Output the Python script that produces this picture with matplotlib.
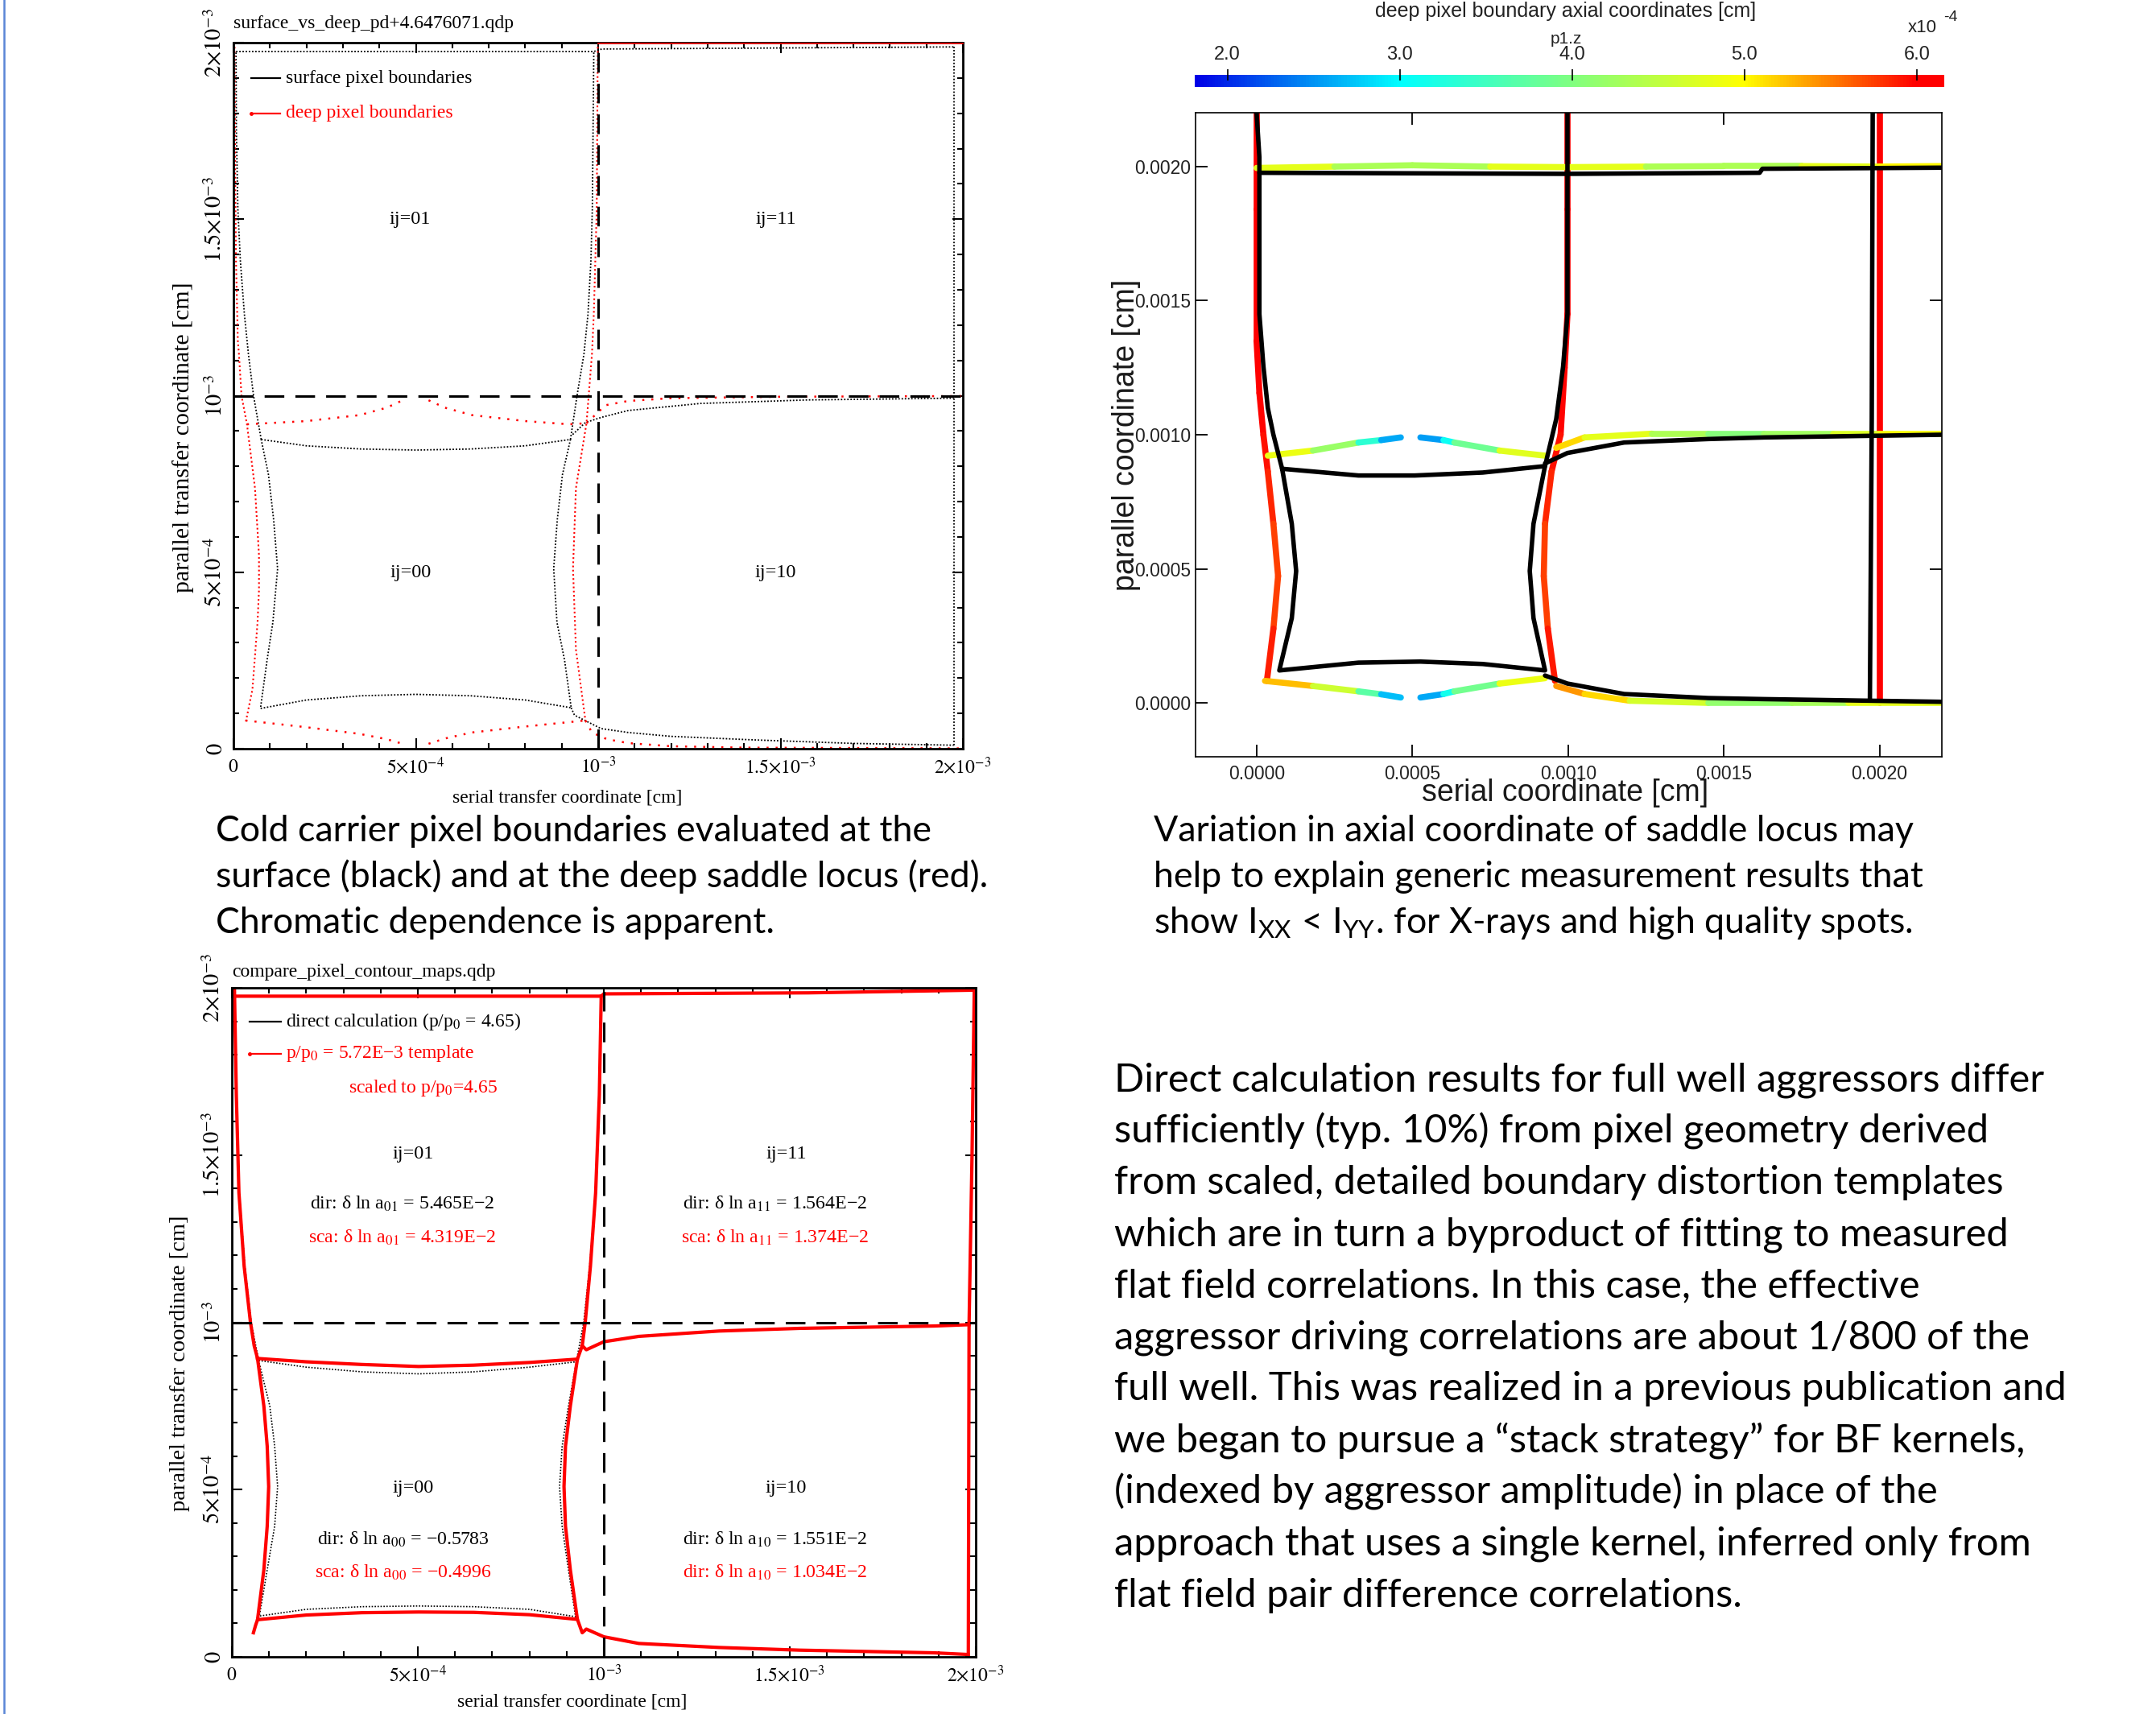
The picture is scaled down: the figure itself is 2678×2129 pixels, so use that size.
import matplotlib
matplotlib.use("Agg")
import matplotlib.pyplot as plt
import numpy as np
from matplotlib.collections import LineCollection
from matplotlib.colors import Normalize, LinearSegmentedColormap
from matplotlib.lines import Line2D
import matplotlib.cm as cm

plt.rcParams['mathtext.fontset'] = 'stix'

# ================= DATA (lengths in units of 1e-4 cm) =================
# ---- Panel 1: surface (black) vs deep (red) pixel boundaries ----
p1_surf_box_x = [0.76, 2.0, 3.5, 5.0, 6.5, 8.0, 9.24, 9.02, 8.88, 8.78, 8.87, 9.08, 9.26,
                 8.0, 6.5, 5.0, 3.5, 2.0, 0.74, 0.92, 1.08, 1.21, 1.1, 0.96, 0.76]
p1_surf_box_y = [8.76, 8.58, 8.49, 8.46, 8.49, 8.58, 8.76, 7.76, 6.5, 5.1, 3.58, 2.5, 1.16,
                 1.38, 1.5, 1.54, 1.5, 1.38, 1.14, 2.5, 3.58, 5.1, 6.5, 7.76, 8.76]
p1_surf_upl_x = [0.76, 0.55, 0.41, 0.3, 0.19, 0.12, 0.08, 0.07]
p1_surf_upl_y = [8.76, 10.0, 11.18, 12.3, 13.8, 15.3, 17.5, 19.75]
p1_surf_upr_x = [9.24, 9.42, 9.61, 9.72, 9.8, 9.84, 9.86, 9.88]
p1_surf_upr_y = [8.76, 10.0, 11.18, 12.3, 13.8, 15.3, 17.5, 19.75]
p1_surf_top_x = [0.07, 9.88, 10.1, 15.0, 19.75]
p1_surf_top_y = [19.75, 19.75, 19.82, 19.85, 19.88]
p1_surf_edge_x = [19.75, 19.75]
p1_surf_edge_y = [19.88, 0.1]
p1_surf_mid_x = [9.3, 9.65, 10.1, 10.82, 12.8, 15.75, 19.75]
p1_surf_mid_y = [8.9, 9.24, 9.39, 9.58, 9.78, 9.88, 9.93]
p1_surf_bot_x = [9.26, 9.35, 10.08, 10.82, 12.0, 14.28, 17.0, 19.75]
p1_surf_bot_y = [1.16, 0.95, 0.57, 0.46, 0.35, 0.25, 0.15, 0.1]

p1_deep_left_x = [0.03, 0.05, 0.07, 0.12, 0.15, 0.22, 0.37, 0.59, 0.70, 0.70, 0.66, 0.52, 0.33]
p1_deep_left_y = [20.0, 16.0, 13.8, 11.55, 11.18, 10.0, 9.19, 7.38, 5.48, 4.5, 3.58, 1.68, 0.72]
p1_deep_right_x = [9.99, 9.96, 9.88, 9.83, 9.74, 9.68, 9.39, 9.31, 9.39, 9.65]
p1_deep_right_y = [20.0, 15.26, 12.3, 11.18, 10.0, 9.22, 7.38, 5.1, 2.81, 0.8]
p1_deep_topl_x = [0.37, 1.99, 3.46, 4.2, 4.64]
p1_deep_topl_y = [9.19, 9.28, 9.45, 9.66, 9.87]
p1_deep_topr_x = [5.35, 5.8, 6.54, 8.01, 9.2, 9.68]
p1_deep_topr_y = [9.87, 9.66, 9.45, 9.28, 9.19, 9.22]
p1_deep_botl_x = [0.33, 1.99, 3.46, 4.2, 4.64]
p1_deep_botl_y = [0.8, 0.61, 0.42, 0.27, 0.14]
p1_deep_botr_x = [5.35, 5.8, 6.54, 8.01, 9.65]
p1_deep_botr_y = [0.14, 0.29, 0.46, 0.63, 0.8]
p1_deep_mid_x = [9.68, 10.2, 10.82, 12.0, 15.0, 20.0]
p1_deep_mid_y = [9.22, 9.73, 9.85, 9.93, 9.97, 9.99]
p1_deep_bot10_x = [9.65, 9.83, 10.24, 10.82, 12.0, 14.0, 20.0]
p1_deep_bot10_y = [0.8, 0.46, 0.27, 0.16, 0.07, 0.03, 0.01]
p1_deep_top11_x = [10.0, 20.0]
p1_deep_top11_y = [19.97, 19.97]

# ---- Panel 3: direct (black dotted) vs scaled template (red) ----
p3_sca_box_x = [0.69, 2.0, 3.5, 5.02, 6.5, 8.0, 9.29, 9.1, 8.97, 8.93, 8.97, 9.1, 9.29,
                8.0, 6.5, 5.02, 3.5, 2.0, 0.69, 0.86, 0.95, 0.99, 0.95, 0.86, 0.69]
p3_sca_box_y = [8.92, 8.82, 8.74, 8.68, 8.72, 8.8, 8.9, 7.5, 6.3, 5.09, 3.9, 2.6, 1.12,
                1.26, 1.33, 1.34, 1.32, 1.25, 1.11, 2.6, 3.9, 5.09, 6.3, 7.5, 8.92]
p3_sca_upl_x = [0.07, 0.12, 0.19, 0.33, 0.5, 0.6, 0.69]
p3_sca_upl_y = [19.93, 16.8, 13.87, 11.68, 10.0, 9.3, 8.92]
p3_sca_upr_x = [9.93, 9.88, 9.78, 9.64, 9.5, 9.42, 9.29]
p3_sca_upr_y = [19.75, 16.8, 13.87, 11.68, 10.0, 9.3, 8.9]
p3_sca_top_x = [0.07, 9.93, 10.0, 15.5, 19.96]
p3_sca_top_y = [19.75, 19.75, 19.82, 19.85, 19.93]
p3_sca_edge_x = [19.96, 19.9, 19.82, 19.8]
p3_sca_edge_y = [19.93, 15.0, 9.93, 0.07]
p3_sca_mid_x = [9.42, 9.53, 10.0, 10.94, 13.1, 15.27, 18.88, 19.82]
p3_sca_mid_y = [9.3, 9.18, 9.42, 9.58, 9.74, 9.82, 9.89, 9.93]
p3_sca_bot_x = [9.29, 9.42, 9.53, 10.0, 10.94, 13.1, 15.27, 18.88, 19.8]
p3_sca_bot_y = [1.12, 0.72, 0.83, 0.6, 0.4, 0.28, 0.2, 0.12, 0.07]
p3_sca_hook_x = [0.69, 0.64, 0.58]
p3_sca_hook_y = [1.11, 0.95, 0.72]

p3_dir_box_x = [0.72, 2.0, 3.5, 5.02, 6.5, 8.0, 9.26, 9.05, 8.88, 8.81, 8.88, 9.05, 9.24,
                8.0, 6.5, 5.02, 3.5, 2.0, 0.74, 0.95, 1.15, 1.23, 1.15, 1.02, 0.72]
p3_dir_box_y = [8.86, 8.66, 8.52, 8.46, 8.52, 8.66, 8.82, 7.5, 6.3, 5.09, 3.9, 2.6, 1.2,
                1.42, 1.5, 1.52, 1.5, 1.42, 1.22, 2.6, 3.9, 5.09, 6.3, 7.5, 8.86]
p3_dir_upl_x = [0.07, 0.12, 0.2, 0.35, 0.52, 0.72]
p3_dir_upl_y = [19.9, 16.8, 13.87, 11.68, 10.0, 8.86]
p3_dir_upr_x = [9.93, 9.88, 9.78, 9.62, 9.46, 9.26]
p3_dir_upr_y = [19.8, 16.8, 13.87, 11.68, 10.0, 8.82]

# ---- Panel 2: deep boundary coloured by axial coordinate (z in 1e-4 cm) ----
p2_c_left_x = [0.0, 0.0, 0.0, 0.09, 0.22, 0.36, 0.54, 0.69, 0.54, 0.33]
p2_c_left_y = [22.0, 18.4, 13.5, 11.56, 9.99, 8.63, 6.68, 4.73, 2.77, 0.82]
p2_c_left_z = [6.1, 6.1, 6.05, 6.0, 5.95, 5.9, 5.8, 5.7, 5.8, 5.95]
p2_c_mid_x = [9.98, 9.98, 9.98, 9.89, 9.76, 9.47, 9.26, 9.22, 9.35, 9.58]
p2_c_mid_y = [22.0, 18.4, 14.5, 12.5, 10.0, 8.63, 6.68, 4.73, 2.77, 0.82]
p2_c_mid_z = [6.1, 6.1, 6.05, 6.0, 5.95, 5.9, 5.8, 5.7, 5.8, 6.0]
p2_c_right_x = [20.0, 20.0]
p2_c_right_y = [22.0, 0.0]
p2_c_right_z = [6.1, 6.1]
p2_c_top_x = [0.0, 2.5, 5.0, 7.5, 10.0, 12.5, 15.0, 17.5, 20.0, 22.0]
p2_c_top_y = [19.95, 20.0, 20.05, 20.0, 19.98, 20.0, 20.02, 20.02, 20.0, 20.02]
p2_c_top_z = [5.0, 4.6, 4.05, 4.6, 5.0, 4.6, 4.1, 4.6, 5.0, 5.05]
p2_c_sul_x = [0.36, 1.81, 3.27, 4.0, 4.63]
p2_c_sul_y = [9.22, 9.41, 9.71, 9.8, 9.9]
p2_c_sul_z = [5.0, 4.7, 3.7, 3.0, 2.2]
p2_c_sur_x = [5.26, 6.0, 6.35, 7.8, 9.26]
p2_c_sur_y = [9.9, 9.8, 9.71, 9.41, 9.22]
p2_c_sur_z = [2.2, 2.9, 3.3, 4.4, 5.1]
p2_c_sll_x = [0.27, 1.81, 3.27, 4.0, 4.63]
p2_c_sll_y = [0.82, 0.63, 0.43, 0.32, 0.2]
p2_c_sll_z = [5.5, 5.0, 4.2, 3.2, 2.2]
p2_c_slr_x = [5.26, 6.0, 6.35, 7.8, 9.26]
p2_c_slr_y = [0.2, 0.33, 0.43, 0.72, 0.92]
p2_c_slr_z = [2.2, 3.0, 3.3, 4.5, 5.2]
p2_c_m10_x = [9.62, 10.53, 12.7, 14.5, 16.3, 18.5, 20.0, 22.0]
p2_c_m10_y = [9.51, 9.9, 10.04, 10.04, 10.04, 10.04, 10.04, 10.04]
p2_c_m10_z = [5.3, 5.0, 4.6, 4.1, 4.0, 4.5, 4.9, 5.0]
p2_c_b10_x = [9.62, 10.53, 11.98, 14.5, 17.2, 19.0, 22.0]
p2_c_b10_y = [0.63, 0.33, 0.08, 0.0, 0.0, 0.0, 0.0]
p2_c_b10_z = [5.5, 5.3, 5.0, 4.3, 4.0, 4.6, 5.0]

p2_k_upl_x = [0.0, 0.09, 0.09, 0.22, 0.36, 0.54, 0.82]
p2_k_upl_y = [22.0, 20.35, 14.5, 12.54, 11.0, 10.0, 8.73]
p2_k_top_x = [0.09, 9.98, 16.15, 16.24, 22.0]
p2_k_top_y = [19.77, 19.73, 19.77, 19.92, 19.96]
p2_k_upr_x = [9.98, 9.98, 9.84, 9.62, 9.26]
p2_k_upr_y = [22.0, 14.5, 12.54, 10.59, 8.83]
p2_k_box_x = [0.82, 3.27, 5.08, 7.26, 9.26, 8.89, 8.77, 8.89, 9.26, 7.26, 5.26, 3.27, 0.73,
              1.13, 1.27, 1.13, 0.82]
p2_k_box_y = [8.73, 8.48, 8.48, 8.59, 8.83, 6.68, 4.92, 3.16, 1.21, 1.45, 1.54, 1.5, 1.21,
              3.16, 4.92, 6.68, 8.73]
p2_k_m10_x = [9.26, 9.98, 11.8, 14.5, 16.3, 22.0]
p2_k_m10_y = [8.93, 9.32, 9.71, 9.84, 9.9, 10.0]
p2_k_b10_x = [9.26, 9.98, 11.8, 14.5, 16.3, 22.0]
p2_k_b10_y = [1.02, 0.72, 0.33, 0.18, 0.14, 0.04]
p2_k_edge_x = [19.78, 19.75, 19.69]
p2_k_edge_y = [22.0, 10.59, 0.14]

# ---- ticks / labels ----
QDP_TICKS = [0, 5, 10, 15, 20]
QDP_MINOR = [1, 2, 3, 4, 6, 7, 8, 9, 11, 12, 13, 14, 16, 17, 18, 19]
QDP_LABELS = [r'$0$', r'$5{\times}10^{-4}$', r'$10^{-3}$', r'$1.5{\times}10^{-3}$', r'$2{\times}10^{-3}$']
P2_TICKS = [0, 5, 10, 15, 20]
P2_LABELS = ['0.0000', '0.0005', '0.0010', '0.0015', '0.0020']
CB_TICKS = [2.0, 3.0, 4.0, 5.0, 6.0]
CB_LABELS = ['2.0', '3.0', '4.0', '5.0', '6.0']
CB_MIN, CB_MAX = 1.81, 6.16

caption1 = ["Cold carrier pixel boundaries evaluated at the",
            "surface (black) and at the deep saddle locus (red).",
            "Chromatic dependence is apparent."]
caption2 = ["Variation in axial coordinate of saddle locus may",
            "help to explain generic measurement results that",
            r"show I$_{\mathregular{XX}}$ < I$_{\mathregular{YY}}$. for X-rays and high quality spots."]
caption3 = ["Direct calculation results for full well aggressors differ",
            "sufficiently (typ. 10%) from pixel geometry derived",
            "from scaled, detailed boundary distortion templates",
            "which are in turn a byproduct of fitting to measured",
            "flat field correlations. In this case, the effective",
            "aggressor driving correlations are about 1/800 of the",
            "full well. This was realized in a previous publication and",
            "we began to pursue a \u201cstack strategy\u201d for BF kernels,",
            "(indexed by aggressor amplitude) in place of the",
            "approach that uses a single kernel, inferred only from",
            "flat field pair difference correlations."]

# ================= FIGURE =================
W, H = 2678, 2129
fig = plt.figure(figsize=(W / 100, H / 100), dpi=100)
fig.patch.set_facecolor('white')
SERIF = 'Liberation Serif'
SANS = 'Liberation Sans'
CAP = 'Lato'
RED = '#ff0000'


def px_axes(l, t, r, b):
    return fig.add_axes([l / W, 1 - b / H, (r - l) / W, (b - t) / H])


def ftext(x, y, s, **kw):
    return fig.text(x / W, 1 - y / H, s, **kw)


def qdp_style(ax):
    ax.set_xlim(0, 20)
    ax.set_ylim(0, 20)
    ax.set_xticks(QDP_TICKS)
    ax.set_xticklabels(QDP_LABELS, fontsize=17)
    ax.set_yticks(QDP_TICKS)
    ax.set_yticklabels(QDP_LABELS, fontsize=20.5, rotation=90, va='center')
    ax.set_xticks(QDP_MINOR, minor=True)
    ax.set_yticks(QDP_MINOR, minor=True)
    ax.tick_params(which='both', direction='in', top=True, right=True, width=1.5, color='black')
    ax.tick_params(which='major', length=9.5)
    ax.tick_params(which='minor', length=5)
    ax.tick_params(axis='x', which='major', pad=7)
    ax.tick_params(axis='y', which='major', pad=6)
    for s in ax.spines.values():
        s.set_linewidth(2)
    ax.axhline(10, color='black', lw=2.2, ls=(0, (8, 4.5)), zorder=3)
    ax.axvline(10, color='black', lw=2.2, ls=(0, (8, 4.5)), zorder=3)


# ---------------- Panel 1 ----------------
ax1 = px_axes(290, 53, 1196, 930)
qdp_style(ax1)
kdot = dict(color='black', lw=1.3, ls=(0, (1, 1.2)))
rdot = dict(color=RED, lw=1.5, ls=(0, (1, 1.5)))
rsparse = dict(color=RED, lw=1.8, ls=(0, (1, 3.5)))
ax1.plot(p1_surf_box_x, p1_surf_box_y, **kdot)
ax1.plot(p1_surf_upl_x, p1_surf_upl_y, **kdot)
ax1.plot(p1_surf_upr_x, p1_surf_upr_y, **kdot)
ax1.plot(p1_surf_top_x, p1_surf_top_y, **kdot)
ax1.plot(p1_surf_edge_x, p1_surf_edge_y, **kdot)
ax1.plot(p1_surf_mid_x, p1_surf_mid_y, **kdot)
ax1.plot(p1_surf_bot_x, p1_surf_bot_y, **kdot)
ax1.plot(p1_deep_left_x, p1_deep_left_y, **rdot)
ax1.plot(p1_deep_right_x, p1_deep_right_y, **rdot)
ax1.plot(p1_deep_topl_x, p1_deep_topl_y, **rsparse)
ax1.plot(p1_deep_topr_x, p1_deep_topr_y, **rsparse)
ax1.plot(p1_deep_botl_x, p1_deep_botl_y, **rsparse)
ax1.plot(p1_deep_botr_x, p1_deep_botr_y, **rsparse)
ax1.plot(p1_deep_mid_x, p1_deep_mid_y, **rsparse)
ax1.plot(p1_deep_bot10_x, p1_deep_bot10_y, **rsparse)
ax1.plot(p1_deep_top11_x, p1_deep_top11_y, color=RED, lw=1.2, zorder=3, clip_on=False)
# legend
ax1.plot([0.49, 1.29], [18.99, 18.99], color='black', lw=1.6)
ax1.plot([0.49, 1.29], [18.0, 18.0], color=RED, lw=1.6)
ax1.plot([0.49], [18.0], 'o', color=RED, ms=2.5)
ax1.text(1.43, 18.99, 'surface pixel boundaries', family=SERIF, fontsize=17, va='center')
ax1.text(1.43, 18.0, 'deep pixel boundaries', family=SERIF, fontsize=17, va='center', color=RED)
for (tx, ty, s) in [(4.85, 15.0, 'ij=01'), (14.87, 15.0, 'ij=11'),
                    (4.85, 4.99, 'ij=00'), (14.87, 4.99, 'ij=10')]:
    ax1.text(tx, ty, s, family=SERIF, fontsize=17.5, ha='center', va='center')
ftext(290, 29, 'surface_vs_deep_pd+4.6476071.qdp', family=SERIF, fontsize=17, va='center')
ftext(705, 991, 'serial transfer coordinate [cm]', family=SERIF, fontsize=17, ha='center', va='center')
ftext(228, 543, 'parallel transfer coordinate [cm]', family=SERIF, fontsize=21.5,
      ha='center', va='center', rotation=90)

# ---------------- Panel 3 ----------------
ax3 = px_axes(288, 1227, 1212, 2058)
qdp_style(ax3)
kfine = dict(color='black', lw=1.2, ls=(0, (1, 1.2)))
rsol = dict(color=RED, lw=3.0, solid_joinstyle='round')
ax3.plot(p3_dir_box_x, p3_dir_box_y, **kfine)
ax3.plot(p3_dir_upl_x, p3_dir_upl_y, **kfine)
ax3.plot(p3_dir_upr_x, p3_dir_upr_y, **kfine)
ax3.plot(p3_sca_box_x, p3_sca_box_y, **rsol)
ax3.plot(p3_sca_upl_x, p3_sca_upl_y, **rsol)
ax3.plot(p3_sca_upr_x, p3_sca_upr_y, **rsol)
ax3.plot(p3_sca_top_x, p3_sca_top_y, **rsol)
ax3.plot(p3_sca_edge_x, p3_sca_edge_y, **rsol)
ax3.plot(p3_sca_mid_x, p3_sca_mid_y, **rsol)
ax3.plot(p3_sca_bot_x, p3_sca_bot_y, **rsol)
ax3.plot(p3_sca_hook_x, p3_sca_hook_y, **rsol)
ax3.plot([0.48, 1.31], [19.0, 19.0], color='black', lw=1.6)
ax3.plot([0.48, 1.31], [18.03, 18.03], color=RED, lw=1.6)
ax3.plot([0.48], [18.03], 'o', color=RED, ms=2.5)
ax3.text(1.45, 19.0, 'direct calculation (p/p$_0$ = 4.65)', family=SERIF, fontsize=17, va='center')
ax3.text(1.45, 18.03, 'p/p$_0$ = 5.72E\u22123 template', family=SERIF, fontsize=17, va='center', color=RED)
ax3.text(3.14, 17.0, 'scaled to p/p$_0$=4.65', family=SERIF, fontsize=17, va='center', color=RED)
for (tx, ty, s) in [(4.88, 15.04, 'ij=01'), (14.9, 15.04, 'ij=11'),
                    (4.88, 5.04, 'ij=00'), (14.9, 5.04, 'ij=10')]:
    ax3.text(tx, ty, s, family=SERIF, fontsize=17.5, ha='center', va='center')
stat_texts = [
    (4.58, 13.55, 'dir: \u03b4 ln a$_{01}$ = 5.465E\u22122', 'black'),
    (4.58, 12.53, 'sca: \u03b4 ln a$_{01}$ = 4.319E\u22122', RED),
    (14.6, 13.55, 'dir: \u03b4 ln a$_{11}$ = 1.564E\u22122', 'black'),
    (14.6, 12.53, 'sca: \u03b4 ln a$_{11}$ = 1.374E\u22122', RED),
    (4.6, 3.5, 'dir: \u03b4 ln a$_{00}$ = \u22120.5783', 'black'),
    (4.6, 2.51, 'sca: \u03b4 ln a$_{00}$ = \u22120.4996', RED),
    (14.6, 3.5, 'dir: \u03b4 ln a$_{10}$ = 1.551E\u22122', 'black'),
    (14.6, 2.51, 'dir: \u03b4 ln a$_{10}$ = 1.034E\u22122', RED),
]
for tx, ty, s, c in stat_texts:
    ax3.text(tx, ty, s, family=SERIF, fontsize=17.2, ha='center', va='center', color=c)
ftext(288, 1207, 'compare_pixel_contour_maps.qdp', family=SERIF, fontsize=17, va='center')
ftext(711, 2114, 'serial transfer coordinate [cm]', family=SERIF, fontsize=17, ha='center', va='center')
ftext(224, 1693, 'parallel transfer coordinate [cm]', family=SERIF, fontsize=20.5,
      ha='center', va='center', rotation=90)

# ---------------- Panel 2 ----------------
ax2 = px_axes(1485, 140, 2412, 940)
ax2.set_xlim(-1.96, 22.0)
ax2.set_ylim(-2.01, 22.01)
ax2.set_xticks(P2_TICKS)
ax2.set_xticklabels(P2_LABELS, family=SANS, fontsize=16.5, color='#222222')
ax2.set_yticks(P2_TICKS)
ax2.set_yticklabels(P2_LABELS, family=SANS, fontsize=16.5, color='#222222')
ax2.tick_params(direction='in', top=True, right=True, length=11, width=1.3)
ax2.tick_params(axis='x', pad=7)
ax2.tick_params(axis='y', pad=4)
for s in ax2.spines.values():
    s.set_linewidth(1.2)

cmap = LinearSegmentedColormap.from_list('p1z', [
    (0.0, '#0000e6'), (0.2736, '#00ffff'), (0.503, '#80ff80'),
    (0.733, '#ffff00'), (0.963, '#ff0000'), (1.0, '#ff0000')])
norm = Normalize(vmin=CB_MIN, vmax=CB_MAX)


def colored(ax, x, y, z, lw=5.5):
    pts = np.column_stack([x, y])
    segs = np.stack([pts[:-1], pts[1:]], axis=1)
    zc = (np.asarray(z[:-1]) + np.asarray(z[1:])) / 2.0
    lc = LineCollection(segs, cmap=cmap, norm=norm, linewidths=lw, capstyle='round', zorder=2)
    lc.set_array(zc)
    ax.add_collection(lc)


for xs, ys, zs in [(p2_c_left_x, p2_c_left_y, p2_c_left_z), (p2_c_mid_x, p2_c_mid_y, p2_c_mid_z),
                   (p2_c_right_x, p2_c_right_y, p2_c_right_z), (p2_c_top_x, p2_c_top_y, p2_c_top_z),
                   (p2_c_sul_x, p2_c_sul_y, p2_c_sul_z), (p2_c_sur_x, p2_c_sur_y, p2_c_sur_z),
                   (p2_c_sll_x, p2_c_sll_y, p2_c_sll_z), (p2_c_slr_x, p2_c_slr_y, p2_c_slr_z),
                   (p2_c_m10_x, p2_c_m10_y, p2_c_m10_z), (p2_c_b10_x, p2_c_b10_y, p2_c_b10_z)]:
    colored(ax2, xs, ys, zs)

kthick = dict(color='black', lw=4.0, solid_joinstyle='round', solid_capstyle='round', zorder=3)
for xs, ys in [(p2_k_upl_x, p2_k_upl_y), (p2_k_top_x, p2_k_top_y), (p2_k_upr_x, p2_k_upr_y),
               (p2_k_box_x, p2_k_box_y), (p2_k_m10_x, p2_k_m10_y), (p2_k_b10_x, p2_k_b10_y),
               (p2_k_edge_x, p2_k_edge_y)]:
    ax2.plot(xs, ys, **kthick)

ftext(1944, 985, 'serial coordinate [cm]', family=SANS, fontsize=27, ha='center', va='center',
      color='#1a1a1a')
ftext(1399, 540, 'parallel coordinate [cm]', family=SANS, fontsize=27, ha='center', va='center',
      rotation=90, color='#1a1a1a')

# colour bar
cax = px_axes(1484, 93, 2415, 108)
cb = fig.colorbar(cm.ScalarMappable(norm=norm, cmap=cmap), cax=cax, orientation='horizontal')
cb.outline.set_visible(False)
cax.xaxis.set_ticks_position('top')
cax.xaxis.set_label_position('top')
cb.set_ticks(CB_TICKS)
cb.set_ticklabels(CB_LABELS)
cax.tick_params(direction='inout', length=10, width=1.2, pad=5, labelsize=17, colors='black')
for lbl in cax.get_xticklabels():
    lbl.set_family(SANS)
    lbl.set_color('#222222')
ftext(1945, 14, 'deep pixel boundary axial coordinates [cm]', family=SANS, fontsize=18,
      ha='center', va='center', color='#222222')
ftext(1945, 48, 'p1.z', family=SANS, fontsize=15, ha='center', va='center', color='#222222')
ftext(2388, 34, 'x10', family=SANS, fontsize=16, ha='center', va='center', color='#222222')
ftext(2423, 22, '-4', family=SANS, fontsize=14, ha='center', va='center', color='#222222')

# ---------------- captions ----------------
renderer = fig.canvas.get_renderer()


def fit_block(lines, x, y0, dy, ref_idx, target_w):
    t = ftext(x, y0, lines[ref_idx], fontsize=30, family=CAP, va='baseline')
    w = t.get_window_extent(renderer).width
    t.remove()
    fs = 30.0 * target_w / w
    for i, s in enumerate(lines):
        ftext(x, y0 + i * dy, s, fontsize=fs, family=CAP, va='baseline', ha='left', color='black')


fit_block(caption1, 268, 1045, 57, 0, 888)
fit_block(caption2, 1433, 1045, 57, 1, 954)
fit_block(caption3, 1384, 1355, 64.05, 0, 1155)

# slide edge line
fig.add_artist(Line2D([5 / W, 5 / W], [0, 1], color='#5b86d6', lw=1.8, transform=fig.transFigure))

fig.savefig('out.png', dpi=100, facecolor='white')
